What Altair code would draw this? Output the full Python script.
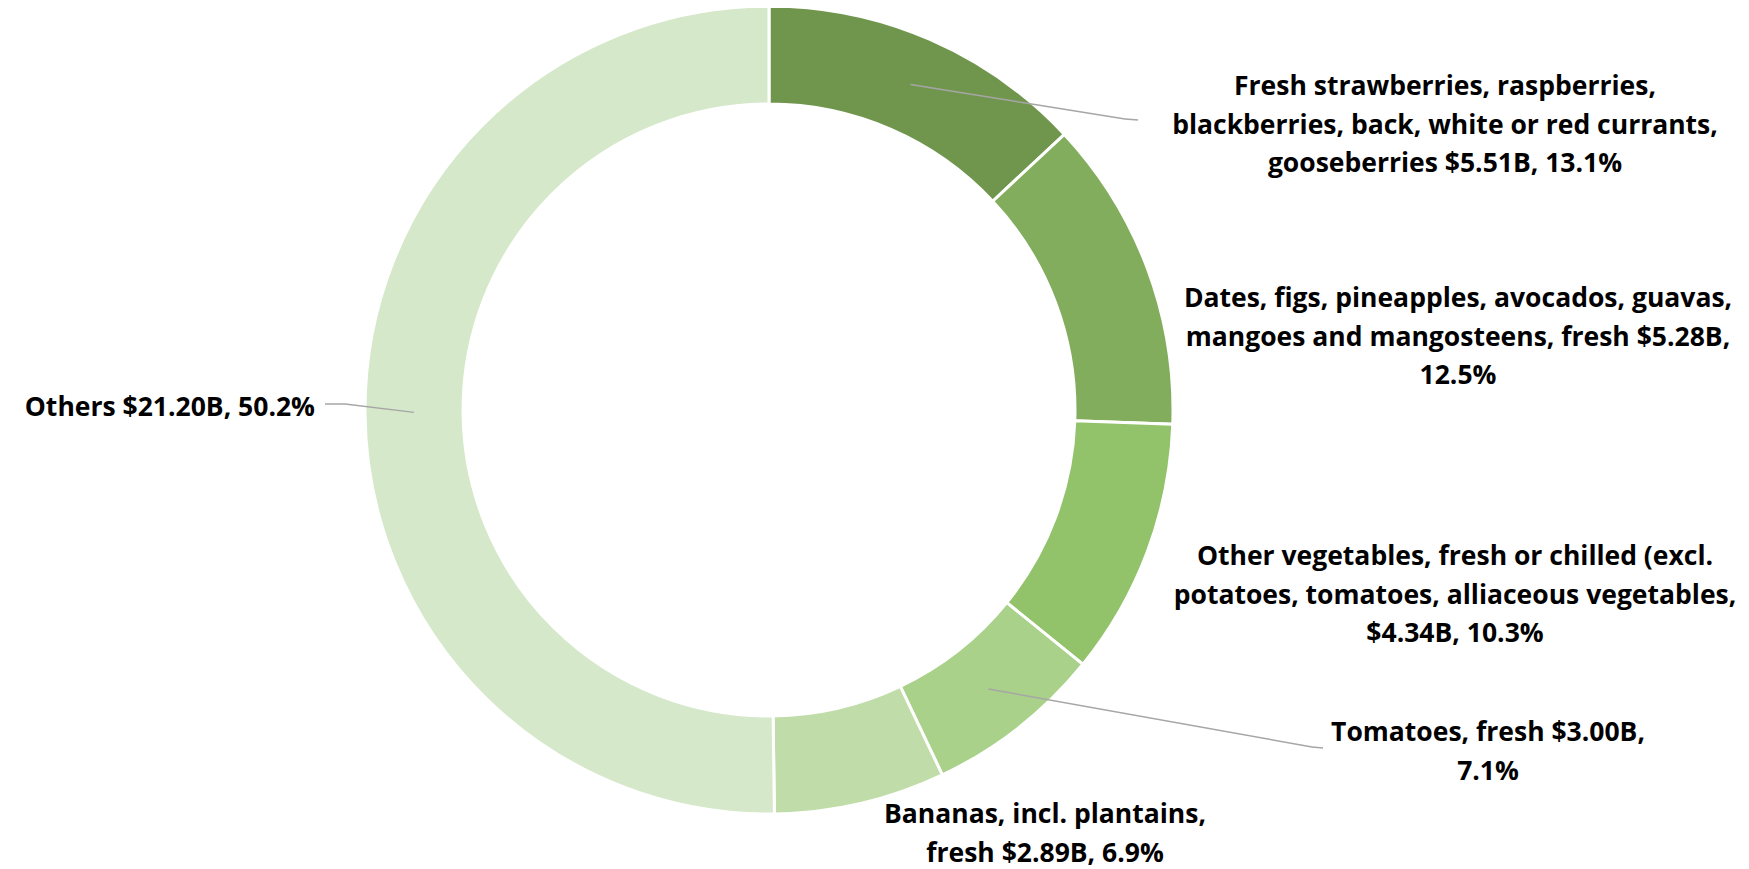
import altair as alt
import pandas as pd

# ---- data ----
categories = [
    "Fresh strawberries, raspberries, blackberries, back, white or red currants, gooseberries",
    "Dates, figs, pineapples, avocados, guavas, mangoes and mangosteens, fresh",
    "Other vegetables, fresh or chilled (excl. potatoes, tomatoes, alliaceous vegetables,",
    "Tomatoes, fresh",
    "Bananas, incl. plantains, fresh",
    "Others",
]
values = [5.51, 5.28, 4.34, 3.00, 2.89, 21.20]
percents = ["13.1%", "12.5%", "10.3%", "7.1%", "6.9%", "50.2%"]
label_lines = [
    ["Fresh strawberries, raspberries,", "blackberries, back, white or red currants,", "gooseberries $5.51B, 13.1%"],
    ["Dates, figs, pineapples, avocados, guavas,", "mangoes and mangosteens, fresh $5.28B,", "12.5%"],
    ["Other vegetables, fresh or chilled (excl.", "potatoes, tomatoes, alliaceous vegetables,", "$4.34B, 10.3%"],
    ["Tomatoes, fresh $3.00B,", "7.1%"],
    ["Bananas, incl. plantains,", "fresh $2.89B, 6.9%"],
    ["Others $21.20B, 50.2%"],
]
colors = ["#70964E", "#82AD5C", "#92C26A", "#A9D18A", "#C0DDA9", "#D5E8CA"]

# ---- layout (pixels) ----
W, H = 1733, 861
CX, CY = 761, 402
R_OUT, R_IN = 404, 306
R_MID = (R_OUT + R_IN) / 2
FONT = "Open Sans"
FS = 26.5
LH = 38.5

label_pos = {  # x, y (first line centre), align
    0: (1437, 79, "center"),
    1: (1450, 291, "center"),
    2: (1447, 549, "center"),
    3: (1480, 725, "center"),
    4: (1037, 807, "center"),
    5: (307, 400, "right"),
}
leader_pts = {  # elbow, end
    0: ((1117, 111), (1130, 112)),
    3: ((1304, 739), (1315, 740)),
    5: ((337, 396), (317, 396)),
}

df = pd.DataFrame({
    "category": categories,
    "value": values,
    "pct": percents,
    "order": list(range(len(categories))),
})

arcs = alt.Chart(df).mark_arc(
    outerRadius=R_OUT, innerRadius=R_IN, stroke="white", strokeWidth=3
).encode(
    theta=alt.Theta("value:Q", stack=True),
    order=alt.Order("order:Q"),
    color=alt.Color("category:N", scale=alt.Scale(domain=categories, range=colors), legend=None),
    x=alt.value(CX),
    y=alt.value(CY),
)

# leader lines: from slice centroid (computed from data) to elbow, then to end
ldf = df.copy()
ldf["ex"] = [leader_pts[i][0][0] if i in leader_pts else None for i in ldf["order"]]
ldf["ey"] = [leader_pts[i][0][1] if i in leader_pts else None for i in ldf["order"]]
ldf["tx"] = [leader_pts[i][1][0] if i in leader_pts else None for i in ldf["order"]]
ldf["ty"] = [leader_pts[i][1][1] if i in leader_pts else None for i in ldf["order"]]

base_leader = alt.Chart(ldf).transform_window(
    cum="sum(value)", sort=[alt.SortField("order")], frame=[None, 0]
).transform_joinaggregate(
    total="sum(value)"
).transform_calculate(
    mid="(datum.cum - datum.value/2) / datum.total * 2 * PI",
).transform_calculate(
    px=f"{CX} + {R_MID} * sin(datum.mid)",
    py=f"{CY} - {R_MID} * cos(datum.mid)",
).transform_filter("isValid(datum.ex)")

seg1 = base_leader.mark_rule(color="#A6A6A6", strokeWidth=1.5).encode(
    x=alt.X("px:Q", scale=None), y=alt.Y("py:Q", scale=None),
    x2="ex:Q", y2="ey:Q",
)
seg2 = base_leader.mark_rule(color="#A6A6A6", strokeWidth=1.5).encode(
    x=alt.X("ex:Q", scale=None), y=alt.Y("ey:Q", scale=None),
    x2="tx:Q", y2="ty:Q",
)

layers = [arcs, seg1, seg2]
for i, lines in enumerate(label_lines):
    x, y, al = label_pos[i]
    tdf = pd.DataFrame({"label": ["\n".join(lines)], "lx": [x], "ly": [y]})
    layers.append(
        alt.Chart(tdf).mark_text(
            font=FONT, fontSize=FS, fontWeight="bold", color="black",
            align=al, baseline="middle", lineBreak="\n", lineHeight=LH,
        ).encode(
            x=alt.X("lx:Q", scale=None), y=alt.Y("ly:Q", scale=None), text="label:N"
        )
    )

chart = alt.layer(*layers).properties(
    width=W, height=H, autosize=alt.AutoSizeParams(type="none"), padding=0
).configure_view(stroke=None)

chart.save("out.html", embed_options={"renderer": "svg", "actions": False})
